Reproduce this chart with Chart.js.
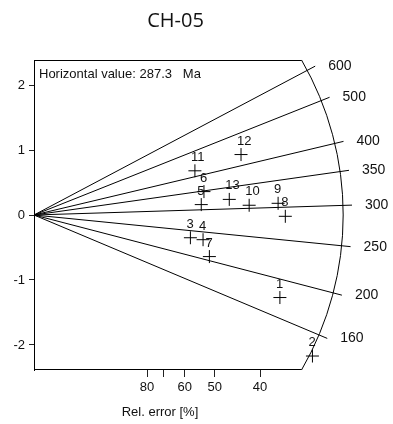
<!DOCTYPE html>
<html>
<head>
<meta charset="utf-8">
<script src="https://cdn.jsdelivr.net/npm/chart.js@4.4.1/dist/chart.umd.min.js"></script>
<style>
  html, body { margin: 0; padding: 0; background: #fff; }
  canvas { display: block; }
</style>
</head>
<body>
<canvas id="radial" width="393" height="424"></canvas>
<script>
// Radial plot data (precision = 1/sigma, standardised estimate)
const sampleIds = ['1', '2', '3', '4', '5', '6', '7', '8', '9', '10', '11', '12', '13'];
const precision = [2.72, 3.08, 1.73, 1.87, 1.85, 1.88, 1.94, 2.78, 2.70, 2.38, 1.78, 2.29, 2.16];
const zScore = [-1.27, -2.17, -0.35, -0.38, 0.16, 0.36, -0.64, -0.02, 0.18, 0.15, 0.68, 0.93, 0.24];

const centralAge = 287.3;
const ageTicks = [160, 200, 250, 300, 350, 400, 500, 600];
const yTicks = [-2, -1, 0, 1, 2];
const errTicks = [80, 70, 60, 50, 40];
const errLabels = ['80', '', '60', '50', '40'];
const arcPrecision = 3.42;

const FONT = '"Liberation Sans", Arial, sans-serif';
const INK = '#111';

// Rays, arc, box and labels drawn through the chart scales
const radialPlugin = {
    id: 'radial',
    beforeDatasetsDraw(chart) {
        const { ctx, chartArea: a } = chart;
        const xs = chart.scales.x, ys = chart.scales.y;
        const x0 = xs.getPixelForValue(0), y0 = ys.getPixelForValue(0);
        const ux = xs.getPixelForValue(1) - x0;
        const uy = y0 - ys.getPixelForValue(1);
        const rArc = xs.getPixelForValue(arcPrecision) - x0;
        const rLine = rArc * 1.029;

        ctx.save();
        ctx.strokeStyle = '#000';
        ctx.lineWidth = 1;

        // arc + box edges
        const a1 = -Math.asin((y0 - a.top) / rArc);
        const a2 = Math.asin((a.bottom - y0) / rArc);
        ctx.beginPath();
        ctx.arc(x0, y0, rArc, a1, a2);
        ctx.stroke();
        ctx.beginPath();
        ctx.moveTo(a.left, a.top + 0.5);
        ctx.lineTo(x0 + rArc * Math.cos(a1), a.top + 0.5);
        ctx.moveTo(a.left, a.bottom - 0.5);
        ctx.lineTo(x0 + rArc * Math.cos(a2), a.bottom - 0.5);
        ctx.stroke();

        // age rays
        ctx.font = '14px ' + FONT;
        ctx.fillStyle = INK;
        ctx.textAlign = 'left';
        ctx.textBaseline = 'middle';
        ageTicks.forEach(age => {
            const s = Math.log(age / centralAge);
            const dx = ux, dy = -s * uy;
            const n = Math.hypot(dx, dy);
            const ex = x0 + dx / n * rLine, ey = y0 + dy / n * rLine;
            ctx.beginPath();
            ctx.moveTo(x0, y0);
            ctx.lineTo(ex, ey);
            ctx.stroke();
            ctx.fillText(String(age), ex + 13, ey);
        });

        // header text + axis title
        ctx.font = '13px ' + FONT;
        ctx.fillText('Horizontal value: ' + centralAge + '   Ma', a.left + 5, a.top + 14);
        ctx.textAlign = 'center';
        ctx.fillText('Rel. error [%]', 160, a.bottom + 42);

        // chart title
        ctx.font = '20px "Open Sans", sans-serif';
        ctx.fillText('CH-05', 175.5, 21);
        ctx.restore();
    },
    afterDatasetsDraw(chart) {
        const { ctx } = chart;
        const meta = chart.getDatasetMeta(0);
        ctx.save();
        ctx.font = '13px ' + FONT;
        ctx.fillStyle = INK;
        ctx.textAlign = 'left';
        ctx.textBaseline = 'alphabetic';
        meta.data.forEach((pt, i) => {
            ctx.fillText(sampleIds[i], pt.x - 4, pt.y - 10);
        });
        ctx.restore();
    }
};

new Chart(document.getElementById('radial'), {
    type: 'scatter',
    data: {
        datasets: [{
            data: precision.map((x, i) => ({ x: x, y: zScore[i] })),
            pointStyle: 'cross',
            pointRadius: 6.5,
            pointHoverRadius: 6.5,
            borderColor: '#000',
            borderWidth: 1
        }]
    },
    options: {
        responsive: false,
        animation: false,
        layout: { padding: { top: 60, left: 0, right: 0, bottom: 0 }, autoPadding: false },
        plugins: {
            legend: { display: false },
            tooltip: { enabled: false },
            title: { display: false }
        },
        scales: {
            x: {
                type: 'linear',
                min: 0,
                max: 3.971,
                afterBuildTicks: s => { s.ticks = errTicks.map(p => ({ value: 100 / p })); },
                afterFit: s => { s.height = 54; s.paddingLeft = 0; s.paddingRight = 0; },
                ticks: {
                    callback: (v, i) => errLabels[i],
                    autoSkip: false,
                    maxRotation: 0,
                    padding: 3,
                    color: INK,
                    font: { family: FONT, size: 13 }
                },
                grid: { drawOnChartArea: false, tickLength: 7, color: '#222' },
                border: { display: false }
            },
            y: {
                min: -2.385,
                max: 2.385,
                afterBuildTicks: s => { s.ticks = yTicks.map(v => ({ value: v })); },
                afterFit: s => { s.width = 34; },
                ticks: {
                    padding: 4,
                    color: INK,
                    font: { family: FONT, size: 13 }
                },
                grid: { drawOnChartArea: false, tickLength: 5, color: '#222' },
                border: { display: true, color: '#000' }
            }
        }
    },
    plugins: [radialPlugin]
});
</script>
</body>
</html>
